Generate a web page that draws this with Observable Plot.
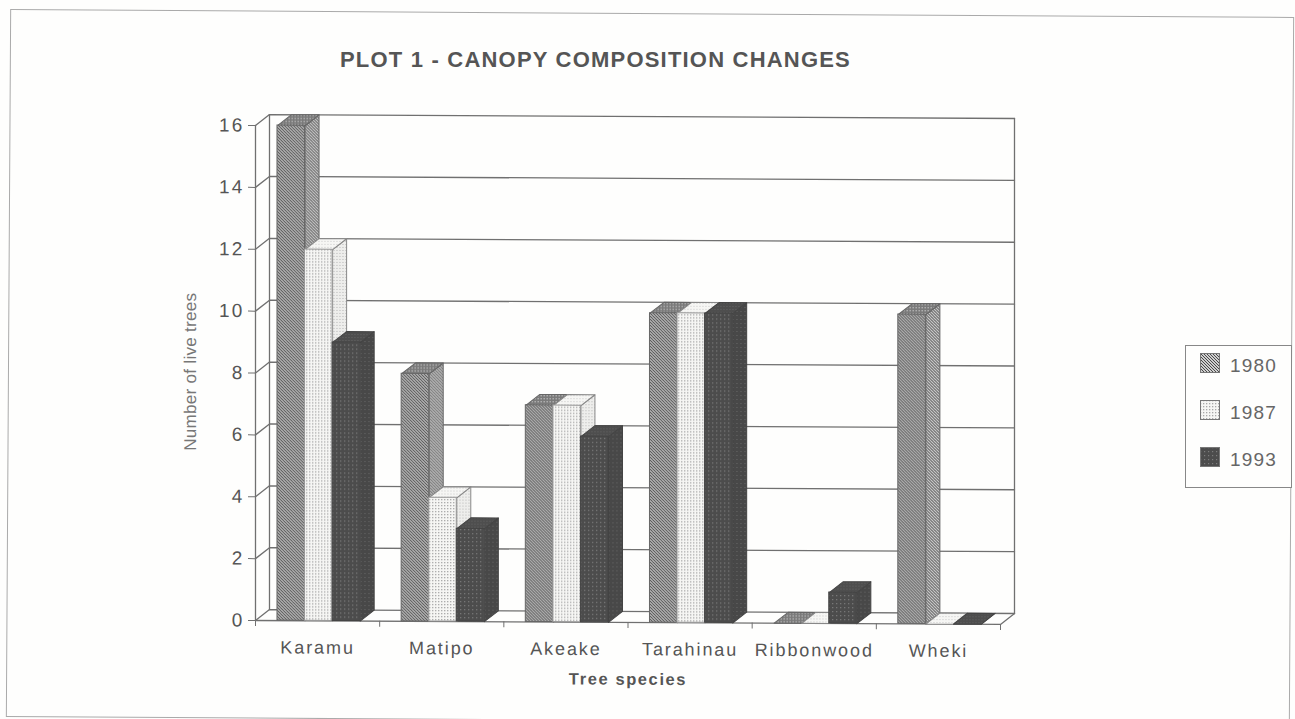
<!DOCTYPE html>
<html><head><meta charset="utf-8">
<script src="https://cdn.jsdelivr.net/npm/d3@7"></script>
<script src="https://cdn.jsdelivr.net/npm/@observablehq/plot@0.6"></script>
<style>
html,body{margin:0;background:#fefefd;overflow:hidden}
#page{position:relative;width:1295px;height:719px;overflow:hidden;font-family:"Liberation Sans",Arial,sans-serif;color:#555}
#title{position:absolute;left:340px;top:47px;font-size:22px;font-weight:700;color:#555;white-space:nowrap;letter-spacing:1.2px}
#frame{position:absolute;left:8px;top:13px;width:1284px;height:708px;border:1.5px solid #aaa;box-sizing:border-box;transform:rotate(.35deg)}
#legend{position:absolute;left:1185px;top:345px;width:107px;height:143px;border:1px solid #888;box-sizing:border-box;background:#fefefd}
#legend div{position:absolute;left:14px;font-size:19px;display:flex;align-items:center;gap:10px;color:#666;letter-spacing:1.2px}
#legend span{position:relative;top:3px}
#legend svg{display:block}
#chart{position:absolute;left:0;top:0;transform:skewY(.3deg);transform-origin:255px 619px}
#chart [aria-label="y-axis tick label"]{letter-spacing:2.2px}
#chart [aria-label="x-axis tick label"]{letter-spacing:1.9px}
</style></head><body>
<div id="page"><div id="frame"></div><div id="chart"></div>
<div id="title">PLOT 1 - CANOPY COMPOSITION CHANGES</div><div id="legend"></div></div>
<script>
const species = ["Karamu","Matipo","Akeake","Tarahinau","Ribbonwood","Wheki"];
const years = ["1980","1987","1993"];
const values1980 = [16,8,7,10,0,10];
const values1987 = [12,4,7,10,0,0];
const values1993 = [9,3,6,10,1,0];
const seriesValues = [values1980,values1987,values1993];
const yTicks = [0,2,4,6,8,10,12,14,16];
const xTicks = [0,1,2,3,4,5,6];
const yTitle = "Number of live trees";
const xTitle = "Tree species";

const hatch = (id,bg,fg,w)=>`<pattern id="${id}" width="3" height="3" patternUnits="userSpaceOnUse"><rect width="3" height="3" fill="${bg}"/><path d="M-1,2L1,4M0,0L3,3M2,-1L4,1" stroke="${fg}" stroke-width="${w}"/></pattern>`;
const dots = (id,s,bg,fg,r)=>`<pattern id="${id}" width="${s}" height="${s}" patternUnits="userSpaceOnUse"><rect width="${s}" height="${s}" fill="${bg}"/><rect width="${r}" height="${r}" fill="${fg}"/></pattern>`;
const defs = `<defs>
${hatch("hatchFront","#cfcfcf","#4a4a4a",1)}
${hatch("hatchSide","#d4d4d4","#606060",1)}
${dots("hatchTop",3,"#7a7a7a","#b5b5b5",1.4)}
${dots("dotFront",3,"#f6f6f4","#a8a8a8",1.3)}
${dots("dotSide",3,"#eeeeec","#b0b0b0",1)}
${dots("dotTop",3,"#f6f6f4","#c4c4c4",1)}
${dots("darkFront",4,"#4c4c4c","#7c7c7c",1.2)}
${dots("darkSide",4,"#484848","#6c6c6c",1)}
${dots("darkTop",3,"#4e4e4e","#666",1)}
</defs>`;

const fillNames = [["hatchFront","hatchSide","hatchTop"],["dotFront","dotSide","dotTop"],["darkFront","darkSide","darkTop"]];

// depth of the 3-D box in data units
const depthX = 14/124.17, depthY = 11/31;
const barStart = 0.177, barWidth = 0.222;

const wallStroke = "#707070";
const wall = pts => Plot.line(pts,{x:"x",y:"y",stroke:wallStroke,strokeWidth:1.3});
const face = (pts,fill,j) => Plot.line(pts,{x:"x",y:"y",fill:`url(#${fill})`,stroke:["#666","#888","#444"][j],strokeWidth:1,strokeLinejoin:"round"});
const P = (x,y)=>({x,y});

const marks = [
  () => { const g = document.createElementNS("http://www.w3.org/2000/svg","g"); g.innerHTML = defs; return g; },
  ...yTicks.map(v => wall([P(0,v),P(depthX,v+depthY),P(6+depthX,v+depthY)])),
  wall([P(0,0),P(0,16)]),
  wall([P(depthX,depthY),P(depthX,16+depthY)]),
  wall([P(6+depthX,depthY),P(6+depthX,16+depthY)]),
  wall([P(0,0),P(6,0),P(6+depthX,depthY)])
];
species.forEach((s,i)=>{
  years.forEach((yr,j)=>{
    const v = seriesValues[j][i];
    const x0 = i+barStart+j*barWidth, x1 = x0+barWidth;
    const [fFront,fSide,fTop] = fillNames[j];
    marks.push(face([P(x1,0),P(x1+depthX,depthY),P(x1+depthX,v+depthY),P(x1,v),P(x1,0)],fSide,j));
    marks.push(face([P(x0,v),P(x1,v),P(x1+depthX,v+depthY),P(x0+depthX,v+depthY),P(x0,v)],fTop,j));
    if(v>0) marks.push(Plot.rect([{x0,x1,v}],{x1:"x0",x2:"x1",y1:0,y2:"v",fill:`url(#${fFront})`,stroke:["#666","#999","#444"][j],strokeWidth:1}));
  });
});
marks.push(
  Plot.axisY({ticks:yTicks,tickSize:7,tickPadding:4,fontSize:19,label:null,stroke:"#707070",color:"#555"}),
  Plot.axisX({ticks:xTicks,tickSize:6,tickFormat:()=>"",label:null,stroke:"#707070"}),
  Plot.axisX({ticks:species.map((_,i)=>i+.5),tickSize:0,tickPadding:20,tickFormat:d=>species[d-.5],fontSize:18,label:null,color:"#555"}),
  Plot.text([yTitle],{x:-.5,y:8,dx:-3,dy:-1,rotate:-90,fontSize:17,fill:"#777",textAnchor:"middle"}),
  Plot.text([xTitle],{x:3,y:0,dy:57,fontSize:16.5,fontWeight:700,fill:"#555"})
);

const chart = Plot.plot({
  width:1295,height:719,
  marginLeft:255,marginRight:295,marginTop:125,marginBottom:99,
  style:{background:"transparent",fontFamily:"'Liberation Sans',Arial,sans-serif",overflow:"visible"},
  x:{type:"linear",domain:[0,6],axis:null},
  y:{type:"linear",domain:[0,16],axis:null},
  marks
});
document.getElementById("chart").append(chart);
d3.select(chart).selectAll("text").each(function(){
  if(this.textContent===xTitle) this.style.letterSpacing="1.6px";
  if(this.textContent===yTitle) this.style.letterSpacing=".3px";
});

const legend = document.getElementById("legend");
years.forEach((yr,j)=>{
  const d = document.createElement("div");
  d.style.top = (6+j*47)+"px";
  d.innerHTML = `<svg width="20" height="20"><rect x=".5" y=".5" width="19" height="19" fill="url(#${fillNames[j][0]})" stroke="#777"/></svg><span>${yr}</span>`;
  legend.append(d);
});
</script></body></html>
